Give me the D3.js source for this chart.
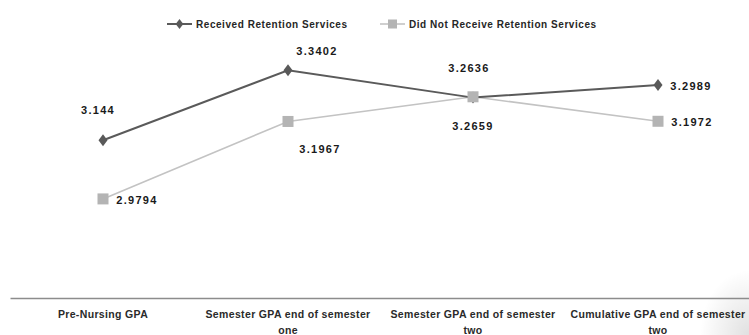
<!DOCTYPE html>
<html><head><meta charset="utf-8">
<script src="https://cdn.jsdelivr.net/npm/d3@7"></script>
<style>
html,body{margin:0;padding:0;background:#fff;}
svg{display:block;}
text{font-family:"Liberation Sans",Arial,sans-serif;}
</style></head>
<body>
<svg id="c" width="749" height="335"></svg>
<script>
const categories = ["Pre-Nursing GPA","Semester GPA end of semester one","Semester GPA end of semester two","Cumulative GPA end of semester two"];
const seriesNames = ["Received Retention Services","Did Not Receive Retention Services"];
const received = [3.144, 3.3402, 3.2636, 3.2989];
const notReceived = [2.9794, 3.1967, 3.2659, 3.1972];
const yDomain = [2.7, 3.4];

// label placement (style): [dx, dy] relative to point
const recvLabelPos = [[-5,-30],[29,-19],[-4,-29],[33,1]];
const notLabelPos = [[34,1],[32,28],[0,29],[34,1]];

const svg = d3.select("#c");
const x = d3.scaleBand().domain(categories).range([10.5, 750.5]);
const y = d3.scaleLinear().domain(yDomain).range([298.5, 49]);
const cx = d => x(d) + x.bandwidth()/2;

// page-curl shadow bottom right
const defs = svg.append("defs");
const g1 = defs.append("radialGradient").attr("id","sh").attr("cx","1").attr("cy","1").attr("r","1");
g1.append("stop").attr("offset","0").attr("stop-color","#000").attr("stop-opacity",0.12);
g1.append("stop").attr("offset","1").attr("stop-color","#000").attr("stop-opacity",0);
svg.append("rect").attr("x",700).attr("y",270).attr("width",49).attr("height",65).attr("fill","url(#sh)");

// x axis
const xAxis = d3.axisBottom(x).tickSize(0).tickPadding(12);
const ax = svg.append("g").attr("transform","translate(0,298.5)").call(xAxis);
ax.select(".domain").attr("stroke","#8c8c8c").attr("stroke-width",1.6).attr("d","M10.5,0H760");
ax.selectAll(".tick text").attr("font-size",10.5).attr("fill","#2a2a2a").attr("font-weight","bold")
  .attr("letter-spacing","0.35px")
  .each(function(d){
    const t = d3.select(this);
    const words = d.split(" ");
    t.text(null);
    let line = [], lines = [];
    const maxW = 180;
    const tmp = t.append("tspan");
    words.forEach(w => {
      line.push(w);
      tmp.text(line.join(" "));
      if (tmp.node().getComputedTextLength() > maxW && line.length > 1) {
        line.pop(); lines.push(line.join(" ")); line = [w];
      }
    });
    lines.push(line.join(" "));
    tmp.remove();
    lines.forEach((l,i) => t.append("tspan").attr("x",0).attr("dy", i===0 ? "0.71em" : "1.5em").text(l));
  });

// lines
const series = [
  {name: seriesNames[0], values: received, color:"#5a5a5a", width:2, marker:"diamond", mcolor:"#595959", pos: recvLabelPos},
  {name: seriesNames[1], values: notReceived, color:"#c3c3c3", width:1.6, marker:"square", mcolor:"#b4b4b4", pos: notLabelPos}
];
const line = d3.line().x((d,i)=>cx(categories[i])).y(d=>y(d));

function drawMarker(g, type, color){
  if (type==="diamond") g.append("path").attr("d", "M0,-6L4.5,0L0,6L-4.5,0Z").attr("fill",color);
  else g.append("rect").attr("x",-5.5).attr("y",-5.5).attr("width",11).attr("height",11).attr("fill",color);
}

[series[1], series[0]].forEach(s => {
  svg.append("path").datum(s.values).attr("d", line).attr("fill","none").attr("stroke", s.color).attr("stroke-width", s.width);
});
[series[0], series[1]].forEach(s => {
  s.values.forEach((v,i) => {
    const g = svg.append("g").attr("transform",`translate(${cx(categories[i])},${y(v)})`);
    drawMarker(g, s.marker, s.mcolor);
  });
});
series.forEach(s => {
  s.values.forEach((v,i) => {
    svg.append("text").attr("x", cx(categories[i]) + s.pos[i][0]).attr("y", y(v) + s.pos[i][1])
      .attr("text-anchor","middle").attr("dy","0.35em").attr("font-size",11).attr("font-weight","bold")
      .attr("letter-spacing","1.3px")
      .attr("fill","#1a1a1a").text(v);
  });
});

// legend
const legendX = [167, 380];
series.forEach((s,i) => {
  const g = svg.append("g").attr("transform",`translate(${legendX[i]},24)`);
  g.append("line").attr("x1",0).attr("x2",25).attr("stroke",s.color).attr("stroke-width",s.width);
  const m = g.append("g").attr("transform","translate(12.5,0)");
  if (s.marker==="diamond") m.append("path").attr("d","M0,-5L3.8,0L0,5L-3.8,0Z").attr("fill",s.mcolor);
  else m.append("rect").attr("x",-4.5).attr("y",-4.5).attr("width",9).attr("height",9).attr("fill",s.mcolor);
  g.append("text").attr("x",29).attr("dy","0.35em").attr("font-size",10).attr("letter-spacing","0.55px")
    .attr("font-weight","bold").attr("fill","#262626").text(s.name);
});
</script>
</body></html>
